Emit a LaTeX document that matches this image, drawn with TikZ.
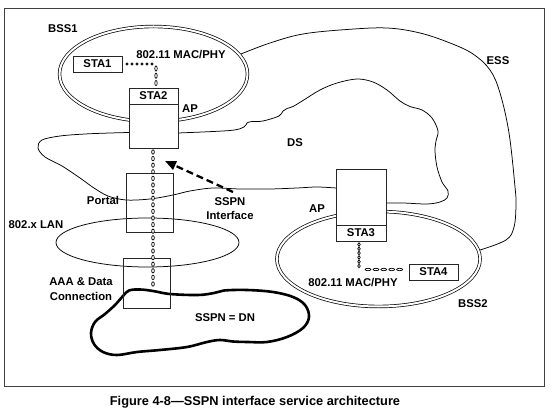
\documentclass[tikz,border=0pt]{standalone}
\usepackage{fontspec}
\setmainfont{Liberation Sans}
\usetikzlibrary{arrows.meta,decorations.markings}
\begin{document}
\begin{tikzpicture}[x=1pt,y=-1pt,
  lbl/.style={font=\fontsize{11.3}{14.5}\selectfont\bfseries, inner sep=0pt, align=center},
  box/.style={draw=black!85, line width=0.8pt, inner sep=0pt, outer sep=0pt,
              font=\fontsize{11.3}{14.5}\selectfont\bfseries},
  wbox/.style={box, fill=white},
  thinline/.style={line width=0.75pt},
  dblring/.style={draw, line width=0.7pt, double=white, double distance=2pt},
  cloudline/.style={line width=2.6pt, line join=round},
  links/.style n args={3}{decoration={markings,
      mark=between positions 0 and 1 step #1 with
        {\draw[line width=0.7pt, fill=white] (0,0) ellipse [x radius=#2, y radius=#3];}},
      decorate},
  ssarrow/.style={line width=2.3pt, dash pattern=on 7pt off 4pt,
                  -{Triangle[length=11pt,width=9pt]}}
]
\useasboundingbox (0,0) rectangle (556,411);
% frame
\draw[black!75, line width=1pt] (4,9) rectangle (544,386);
\node[font=\fontsize{12.8}{14}\selectfont\bfseries, inner sep=0pt] (caption) at (255,402)
  {Figure 4-8---SSPN interface service architecture};

% ESS boundary
\draw[thinline] plot[smooth, tension=0.6] coordinates {(241,54) (270,43) (303,34) (347,29.5) (387,28) (420,33) (450,43) (473,54) (490,70) (500,93) (509,133) (515,187) (516,205) (514,227) (506,240) (480,250)};

% DS boundary
\draw[thinline] plot[smooth, tension=0.55] coordinates {(178,133) (230,130.5) (244,127) (247,123) (252,121.5) (263,121) (279,116) (283,111) (287,108.5) (293,106.5) (303,100.5) (320,90) (337,83) (357,79) (373,82) (387,90) (400,101) (410,106.5) (422,110) (432,118) (438,131) (436,141) (435,151) (437,167) (442,182) (448,191) (447,198) (440,202) (427,204) (403,203) (386,203)};
\draw[thinline] plot[smooth, tension=0.55] coordinates {(336,188) (317,187) (297,188) (270,189) (240,189) (213,188) (190,191) (173,195) (150,199) (126,200) (108,196) (94,188) (80,178) (62,166) (45,157) (38,148) (42,140) (60,136) (85,134) (110,133) (129,132.5)};

% BSS rings and LAN
\draw[dblring] (153.5,74) ellipse [x radius=94, y radius=47.5];
\draw[dblring] (378.5,259) ellipse [x radius=101.6, y radius=47.5];
\draw[thinline] (147.5,242.5) ellipse [x radius=91.5, y radius=24.5];

% SSPN cloud
\draw[cloudline] plot[smooth cycle, tension=0.6] coordinates {(123,296) (129,290.5) (140,289.5) (153,291) (170,294) (198,295) (214,293) (224,290.5) (247,290) (273,292) (293,297) (305,305) (309,317) (303,328) (287,337) (267,342) (248,342) (233,341.5) (220,340) (207,342) (187,347) (160,350) (137,352) (117,355) (103,352) (94,344) (91,333) (95,322) (105,314) (115,305)};

% boxes
\node[box, minimum width=49pt, minimum height=16pt] (sta1) at (97.5,64) {STA1};
\node[wbox, minimum width=49pt, minimum height=16pt] (sta2) at (153.5,96) {STA2};
\node[wbox, minimum width=49pt, minimum height=44pt] (ap1) at (153.5,126) {};
\node[box, minimum width=47pt, minimum height=59pt] (portal) at (149.5,202.5) {};
\node[box, minimum width=47pt, minimum height=50pt] (aaa) at (146.5,283) {};
\node[wbox, minimum width=50pt, minimum height=56pt] (ap2) at (361,197) {};
\node[wbox, minimum width=50pt, minimum height=16pt] (sta3) at (361,233) {STA3};
\node[box, minimum width=49pt, minimum height=16pt] (sta4) at (433.5,272) {STA4};

% chains (yshift is in canvas direction: negative = downwards here)
\coordinate (c1) at (156,64);
\path[links={5pt}{1.15pt}{1.15pt}] ([xshift=5pt]sta1.east) -- (c1);
\path[links={7.3pt}{2.6pt}{1.2pt}] ([yshift=-4.5pt]c1) -- ([yshift=3pt]c1 |- sta2.north);
\coordinate (chainend) at (153,287);
\path[links={6.6pt}{2.2pt}{1.35pt}] ([yshift=-4pt]ap1.south -| chainend) -- (chainend);
\coordinate (c2) at (359,269.5);
\path[links={4.3pt}{1.8pt}{1.3pt}] ([yshift=-3.5pt]sta3.south -| c2) -- (c2);
\path[links={7.9pt}{2.9pt}{1.2pt}] ([xshift=9pt]c2) -- ([xshift=-4pt]sta4.west |- c2);

% SSPN interface arrow
\coordinate (arrtail) at (233,192);
\coordinate (arrtip) at (165,161);
\draw[ssarrow] (arrtail) -- (arrtip);

% labels
\node[lbl] (bss1) at (63,29) {BSS1};
\node[lbl] (mac1) at (181,55) {802.11 MAC/PHY};
\node[lbl] (aplbl1) at (190,109) {AP};
\node[lbl] (ess) at (498,60.5) {ESS};
\node[lbl] (ds) at (295,142.5) {DS};
\node[lbl] (portallbl) at (103,200) {Portal};
\node[lbl] (sspnlbl) at (230,208.5) {SSPN\\Interface};
\node[lbl] (lan) at (36,225) {802.x LAN};
\node[lbl] (aaalbl) at (81,289) {AAA \& Data\\Connection};
\node[lbl] (dn) at (225,318) {SSPN = DN};
\node[lbl] (aplbl2) at (317,209) {AP};
\node[lbl] (mac2) at (353,283) {802.11 MAC/PHY};
\node[lbl] (bss2) at (473,304) {BSS2};
\end{tikzpicture}
\end{document}
